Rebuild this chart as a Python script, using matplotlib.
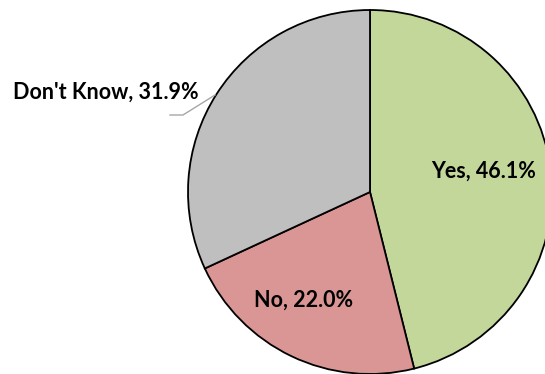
import matplotlib.pyplot as plt

# data
labels = ["Yes", "No", "Don't Know"]
shares = [46.1, 22.0, 31.9]
colors = ["#C4D79B", "#DA9694", "#BFBFBF"]

W, H = 545, 374
fig = plt.figure(figsize=(W / 100, H / 100), dpi=100)
ax = fig.add_axes([0, 0, 1, 1])

# pie centre / radius in pixel units (y measured from bottom)
cx, cy, r = 370, H - 192, 182
wedges, _ = ax.pie(shares, colors=colors, startangle=90, counterclock=False,
                   center=(cx, cy), radius=r,
                   wedgeprops=dict(edgecolor="black", linewidth=1.3))

ax.set_xlim(0, W)
ax.set_ylim(0, H)
ax.set_aspect("equal")
ax.axis("off")

txt = [f"{l}, {v:.1f}%" for l, v in zip(labels, shares)]
font = dict(fontsize=15.5, fontweight="bold", family=["Lato", "DejaVu Sans"])

ax.text(484, H - 171, txt[0], ha="center", va="center", **font)
ax.text(304, H - 300, txt[1], ha="center", va="center", **font)
ax.text(199, H - 92, txt[2], ha="right", va="center", **font)

# leader line for the outside label
ax.plot([170, 183, 215], [H - 115, H - 115, H - 95], color="#A6A6A6", lw=1)

fig.savefig("out.png", dpi=100)
